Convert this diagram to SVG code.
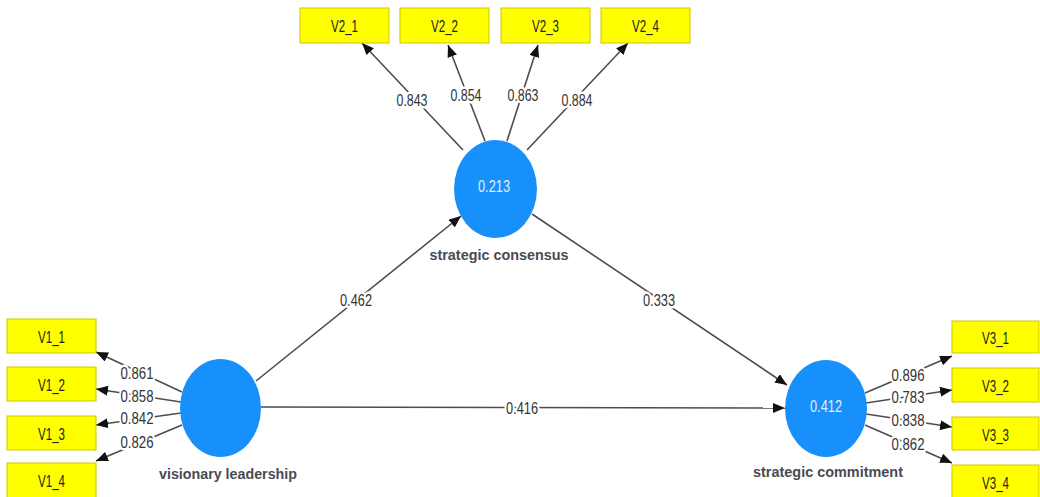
<svg xmlns="http://www.w3.org/2000/svg" width="1040" height="497" viewBox="0 0 1040 497">
<style>
.box{fill:#ffff00;stroke:#c9c900;stroke-width:1}
.bt{font-family:"Liberation Sans",Arial,sans-serif;font-size:17px;fill:#222;text-anchor:middle}
.lv{fill:#1790fb}
.lt{font-family:"Liberation Sans",Arial,sans-serif;font-size:16px;fill:#e6eefa;text-anchor:middle}
.nl{font-family:"Liberation Sans",Arial,sans-serif;font-size:15px;font-weight:bold;fill:#4a4a52;text-anchor:middle}
.ln{stroke:#4d4d4d;stroke-width:1.6;fill:none;marker-end:url(#ah)}
.w{font-family:"Liberation Sans",Arial,sans-serif;font-size:17px;fill:#333;text-anchor:middle;stroke:#fff;stroke-width:5px;paint-order:stroke;stroke-linejoin:round}
</style>
<defs>
<marker id="ah" markerUnits="userSpaceOnUse" markerWidth="12" markerHeight="10" refX="12" refY="5" orient="auto">
<path d="M0,0 L12,5 L0,10 z" fill="#111"/>
</marker>
</defs>
<rect width="1040" height="497" fill="#fff"/>
<g id="connectors">
<line class="ln" x1="463" y1="150" x2="362" y2="43"/>
<line class="ln" x1="485" y1="141" x2="448" y2="45"/>
<line class="ln" x1="507" y1="141" x2="538" y2="45"/>
<line class="ln" x1="527" y1="150" x2="628" y2="43"/>
<line class="ln" x1="182" y1="392" x2="96" y2="352"/>
<line class="ln" x1="181" y1="402" x2="96" y2="389"/>
<line class="ln" x1="181" y1="413" x2="96" y2="425"/>
<line class="ln" x1="182" y1="425" x2="96" y2="461"/>
<line class="ln" x1="865" y1="393" x2="952" y2="356"/>
<line class="ln" x1="866" y1="403" x2="952" y2="390"/>
<line class="ln" x1="866" y1="414" x2="952" y2="427"/>
<line class="ln" x1="865" y1="425" x2="952" y2="463"/>
<line class="ln" x1="256" y1="381" x2="461" y2="216"/>
<line class="ln" x1="532" y1="214" x2="787" y2="385"/>
<line class="ln" x1="261" y1="407" x2="785" y2="408"/>
<text class="w" x="412" y="106" textLength="31" lengthAdjust="spacingAndGlyphs">0.843</text>
<text class="w" x="466" y="101" textLength="31" lengthAdjust="spacingAndGlyphs">0.854</text>
<text class="w" x="523" y="101" textLength="31" lengthAdjust="spacingAndGlyphs">0.863</text>
<text class="w" x="577" y="106" textLength="31" lengthAdjust="spacingAndGlyphs">0.884</text>
<text class="w" x="137" y="379" textLength="33" lengthAdjust="spacingAndGlyphs">0.861</text>
<text class="w" x="137" y="402" textLength="33" lengthAdjust="spacingAndGlyphs">0.858</text>
<text class="w" x="137" y="424" textLength="33" lengthAdjust="spacingAndGlyphs">0.842</text>
<text class="w" x="137" y="448" textLength="33" lengthAdjust="spacingAndGlyphs">0.826</text>
<text class="w" x="908" y="381" textLength="33" lengthAdjust="spacingAndGlyphs">0.896</text>
<text class="w" x="908" y="403" textLength="33" lengthAdjust="spacingAndGlyphs">0.783</text>
<text class="w" x="908" y="426" textLength="33" lengthAdjust="spacingAndGlyphs">0.838</text>
<text class="w" x="908" y="450" textLength="33" lengthAdjust="spacingAndGlyphs">0.862</text>
<text class="w" x="356" y="306" textLength="32" lengthAdjust="spacingAndGlyphs">0.462</text>
<text class="w" x="659" y="306" textLength="32" lengthAdjust="spacingAndGlyphs">0.333</text>
<text class="w" x="522" y="414" textLength="32" lengthAdjust="spacingAndGlyphs">0.416</text>
</g>
<g id="V2_1"><rect class="box" x="300" y="8" width="89" height="35"/><text class="bt" x="344.5" y="31.5" textLength="27" lengthAdjust="spacingAndGlyphs">V2_1</text></g>
<g id="V2_2"><rect class="box" x="400" y="8" width="89" height="35"/><text class="bt" x="444.5" y="31.5" textLength="27" lengthAdjust="spacingAndGlyphs">V2_2</text></g>
<g id="V2_3"><rect class="box" x="501" y="8" width="89" height="35"/><text class="bt" x="545.5" y="31.5" textLength="27" lengthAdjust="spacingAndGlyphs">V2_3</text></g>
<g id="V2_4"><rect class="box" x="601" y="8" width="89" height="35"/><text class="bt" x="645.5" y="31.5" textLength="27" lengthAdjust="spacingAndGlyphs">V2_4</text></g>
<g id="V1_1"><rect class="box" x="7" y="319" width="89" height="34"/><text class="bt" x="51.5" y="342.5" textLength="27" lengthAdjust="spacingAndGlyphs">V1_1</text></g>
<g id="V1_2"><rect class="box" x="7" y="367" width="89" height="34"/><text class="bt" x="51.5" y="390.5" textLength="27" lengthAdjust="spacingAndGlyphs">V1_2</text></g>
<g id="V1_3"><rect class="box" x="7" y="416" width="89" height="34"/><text class="bt" x="51.5" y="439.5" textLength="27" lengthAdjust="spacingAndGlyphs">V1_3</text></g>
<g id="V1_4"><rect class="box" x="7" y="463" width="89" height="36"/><text class="bt" x="51.5" y="486.5" textLength="27" lengthAdjust="spacingAndGlyphs">V1_4</text></g>
<g id="V3_1"><rect class="box" x="952" y="321" width="87" height="32"/><text class="bt" x="995.5" y="343.5" textLength="27" lengthAdjust="spacingAndGlyphs">V3_1</text></g>
<g id="V3_2"><rect class="box" x="952" y="368" width="87" height="34"/><text class="bt" x="995.5" y="391.5" textLength="27" lengthAdjust="spacingAndGlyphs">V3_2</text></g>
<g id="V3_3"><rect class="box" x="952" y="417" width="87" height="33"/><text class="bt" x="995.5" y="440.5" textLength="27" lengthAdjust="spacingAndGlyphs">V3_3</text></g>
<g id="V3_4"><rect class="box" x="952" y="465" width="87" height="34"/><text class="bt" x="995.5" y="488.5" textLength="27" lengthAdjust="spacingAndGlyphs">V3_4</text></g>
<g id="strategic_consensus"><ellipse class="lv" cx="495.5" cy="189" rx="41.5" ry="49"/><text class="lt" x="494" y="191.5" textLength="32" lengthAdjust="spacingAndGlyphs">0.213</text><text class="nl" x="499" y="260" textLength="139" lengthAdjust="spacingAndGlyphs">strategic consensus</text></g>
<g id="visionary_leadership"><ellipse class="lv" cx="220.5" cy="408" rx="40.5" ry="49"/><text class="nl" x="228" y="479" textLength="138" lengthAdjust="spacingAndGlyphs">visionary leadership</text></g>
<g id="strategic_commitment"><ellipse class="lv" cx="826" cy="408.5" rx="41" ry="48.5"/><text class="lt" x="826" y="411.5" textLength="32" lengthAdjust="spacingAndGlyphs">0.412</text><text class="nl" x="828" y="477" textLength="150" lengthAdjust="spacingAndGlyphs">strategic commitment</text></g>
</svg>
